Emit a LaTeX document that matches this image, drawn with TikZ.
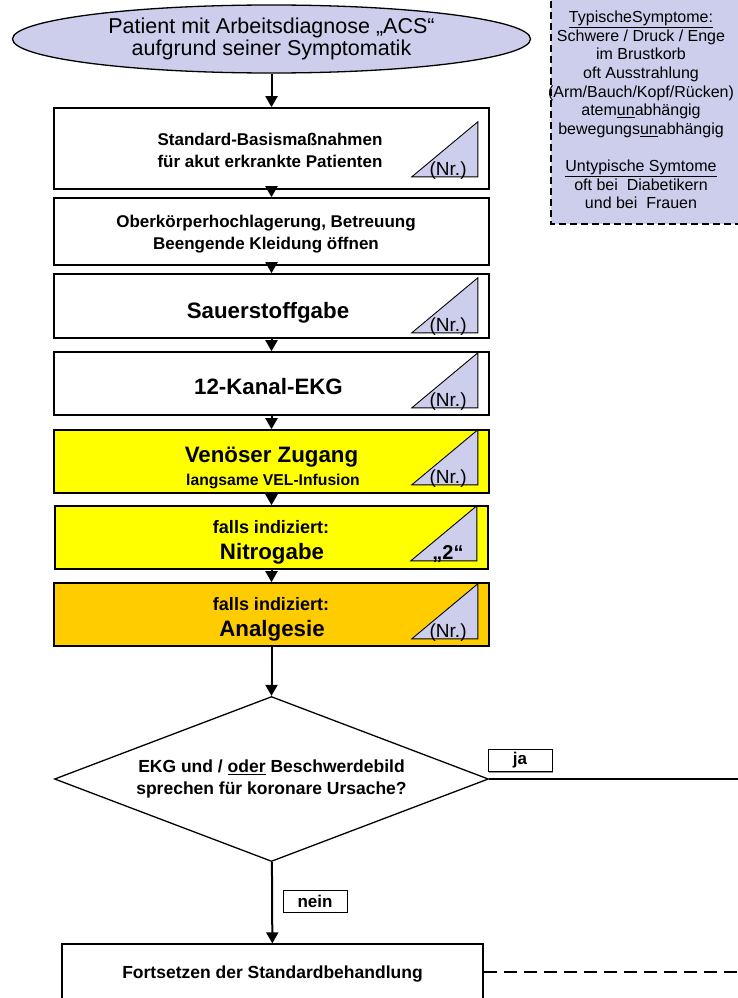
\documentclass[tikz,border=0pt]{standalone}
\usepackage{fontspec}
\setmainfont{Liberation Sans}
\usetikzlibrary{arrows.meta,shapes.geometric,shadows,calc}
\definecolor{lav}{RGB}{204,206,236}
\definecolor{ylw}{RGB}{255,255,0}
\definecolor{org}{RGB}{255,204,0}

% corner triangle of a step box: right edge 12pt inside, bottom #2 above box bottom
\newcommand\nrtri[2]{%
  \draw[tri] ($(#1.south east)+(-12,-#2)$) -- ++(0,-55) -- ++(-66,55) -- cycle;}

\begin{document}
\begin{tikzpicture}[x=1pt,y=-1pt,
  shadowed/.style={drop shadow={shadow xshift=1.3pt,shadow yshift=-1.3pt,fill=black!40,opacity=1}},
  stepbox/.style={draw=black,line width=1.6pt,rectangle,minimum width=435pt,inner sep=0pt,shadowed},
  txt/.style={font=\bfseries\fontsize{#1}{#1}\selectfont,anchor=base,inner sep=0pt},
  txt/.default=17,
  tri/.style={draw=black,line width=0.9pt,fill=lav,line join=miter},
  nrlabel/.style={anchor=base east,inner sep=0pt,font=\fontsize{19}{19}\selectfont},
  conn/.style={draw=black,line width=2pt,-{Triangle[length=11pt,width=12pt]}},
  tag/.style={draw=black,line width=1pt,fill=white,minimum width=64pt,minimum height=22pt,inner sep=0pt,
    font=\bfseries\fontsize{17}{17}\selectfont,shadowed},
  terminal/.style={ellipse,draw=black,line width=1.3pt,fill=lav,minimum width=518pt,minimum height=68pt,
    inner sep=0pt,align=center,font=\fontsize{21.5}{22}\selectfont},
  decision/.style={diamond,aspect=2.63,draw=black,line width=1.3pt,fill=white,minimum width=434pt,
    minimum height=165pt,inner sep=0pt,align=center,font=\bfseries\fontsize{17.5}{22}\selectfont},
]
\useasboundingbox (0,0) rectangle (738,998);
\clip (0,0) rectangle (738,998);
\fill[white] (0,0) rectangle (738,998);

% note on typical and atypical symptoms
\draw[line width=1.5pt,dash pattern=on 7pt off 4pt,fill=lav] (551,-10) rectangle (760,224);
\node[align=center,inner sep=0pt,font=\fontsize{16}{18.6}\selectfont] (sym) at (641,110)
  {\underline{TypischeSymptome:}\\
   Schwere / Druck / Enge\\
   im Brustkorb\\
   oft Ausstrahlung\\
   (Arm/Bauch/Kopf/Rücken)\\
   atem\underline{un}abhängig\\
   bewegungs\underline{un}abhängig\\
   \strut\\
   \underline{Untypische Symtome}\\
   oft bei\ \ Diabetikern\\
   und bei\ \ Frauen};

% start
\node[terminal] (start) at (271.5,39) {Patient mit Arbeitsdiagnose „ACS“\\aufgrund seiner Symptomatik};

% step boxes
\node[stepbox,fill=white,minimum height=81pt] (b1) at (271.5,148.5) {};
\node[stepbox,fill=white,minimum height=67pt] (b2) at (271.5,231.5) {};
\node[stepbox,fill=white,minimum height=64pt] (b3) at (271.5,306) {};
\node[stepbox,fill=white,minimum height=63pt] (b4) at (271.5,383.5) {};
\node[stepbox,fill=ylw,minimum height=63pt] (b5) at (271.5,461.5) {};
\node[stepbox,fill=ylw,minimum height=63pt,minimum width=433pt] (b6) at (271.5,537.5) {};
\node[stepbox,fill=org,minimum height=63pt] (b7) at (271.5,614.5) {};

% box texts
\node[txt] (t1a) at (270,145) {Standard-Basismaßnahmen};
\node[txt] (t1b) at (270,167) {für akut erkrankte Patienten};
\node[txt] (t2a) at (266,227) {Oberkörperhochlagerung, Betreuung};
\node[txt] (t2b) at (266,249) {Beengende Kleidung öffnen};
\node[txt=22.3] (t3) at (268,318) {Sauerstoffgabe};
\node[txt=22.3] (t4) at (268.5,394) {12-Kanal-EKG};
\node[txt=22.3] (t5a) at (271.5,462) {Venöser Zugang};
\node[txt=15.7] (t5b) at (273,485) {langsame VEL-Infusion};
\node[txt=18] (t6a) at (271,533) {falls indiziert:};
\node[txt=22.3] (t6b) at (272,559) {Nitrogabe};
\node[txt=18] (t7a) at (271,610) {falls indiziert:};
\node[txt=22.3] (t7b) at (272,636) {Analgesie};

% reference triangles
\nrtri{b1}{13}
\nrtri{b3}{6}
\nrtri{b4}{8}
\nrtri{b5}{9}
\nrtri{b6}{9}
\nrtri{b7}{8}
\node[nrlabel] (n1) at ($(b1.south east)+(-23,-14)$) {(Nr.)};
\node[nrlabel] (n3) at ($(b3.south east)+(-23,-7)$) {(Nr.)};
\node[nrlabel] (n4) at ($(b4.south east)+(-23,-9)$) {(Nr.)};
\node[nrlabel] (n5) at ($(b5.south east)+(-23,-10)$) {(Nr.)};
\node[nrlabel] (n6) at ($(b6.south east)+(-25,-10)$) {\bfseries\fontsize{20}{20}\selectfont „2“};
\node[nrlabel] (n7) at ($(b7.south east)+(-23,-9)$) {(Nr.)};

% decision and end
\node[decision] (q) at (271.5,779) {EKG und / \underline{oder} Beschwerdebild\\sprechen für koronare Ursache?};
\node[stepbox,fill=white,minimum width=421pt,minimum height=60pt,line width=1.3pt,
  font=\bfseries\fontsize{17.5}{17.5}\selectfont] (f) at (272.5,974) {Fortsetzen der Standardbehandlung};

\node[tag] (ja) at (520,760.5) {ja};
\node[tag] (nein) at (315,901) {nein};

% connectors
\draw[conn] (start) -- (b1);
\draw[conn] (b1) -- (b2);
\draw[conn] (b2) -- (b3);
\draw[conn] (b3) -- (b4);
\draw[conn] (b4) -- (b5);
\draw[conn] (b5) -- (b6);
\draw[conn] (b6) -- (b7);
\draw[conn] (b7) -- (q);
\draw[conn] (q) -- (f);
\coordinate (jend) at (738,779);
\draw[line width=2.4pt] (q.east) -- (jend);
\coordinate (fend) at (738,972);
\draw[line width=2pt,dash pattern=on 13pt off 7pt] (f.east |- fend) -- (fend);
\end{tikzpicture}
\end{document}
